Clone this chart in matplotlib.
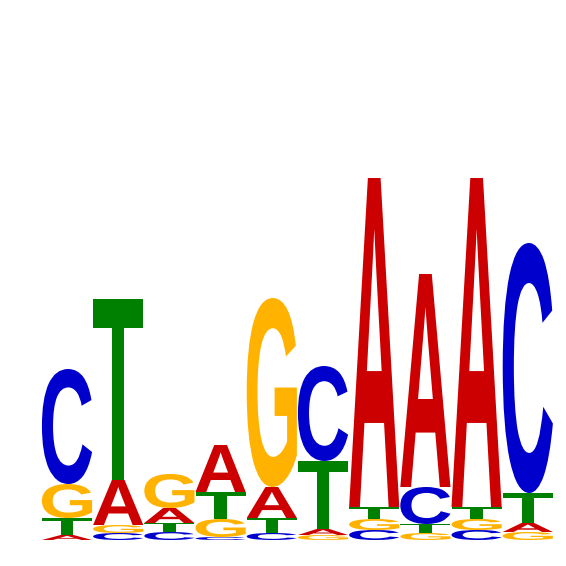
import matplotlib
matplotlib.use('Agg')
import matplotlib.pyplot as plt
from matplotlib.textpath import TextPath
from matplotlib.font_manager import FontProperties
from matplotlib.patches import PathPatch
from matplotlib.transforms import Affine2D

positions = [1, 2, 3, 4, 5, 6, 7, 8, 9, 10]
letters = ['A', 'C', 'G', 'T']
heights_A = [0.05, 0.45, 0.15, 0.47, 0.31, 0.06, 3.29, 2.13, 3.29, 0.09]
heights_C = [1.15, 0.07, 0.08, 0.03, 0.07, 0.95, 0.10, 0.37, 0.10, 2.50]
heights_G = [0.34, 0.08, 0.34, 0.18, 1.89, 0.05, 0.11, 0.07, 0.11, 0.08]
heights_T = [0.17, 1.81, 0.09, 0.27, 0.15, 0.68, 0.12, 0.09, 0.12, 0.30]

colors = {'A': '#CC0000', 'C': '#0000CC', 'G': '#FFB300', 'T': '#008000'}

fp = FontProperties(family='Liberation Sans', weight='bold')
glyphs = {}
for L in letters:
    tp = TextPath((0, 0), L, size=1, prop=fp)
    glyphs[L] = tp

fig = plt.figure(figsize=(5.66, 5.66), dpi=100)
ax = fig.add_axes([0, 0, 1, 1])
ax.set_xlim(1 - 67 / 51.2, 1 + 499 / 51.2)
ax.set_ylim(-0.26, 5.40)
ax.axis('off')

width = 0.98
table = {'A': heights_A, 'C': heights_C, 'G': heights_G, 'T': heights_T}
for i, pos in enumerate(positions):
    col = sorted([(table[L][i], L) for L in letters])
    y = 0.0
    for h, L in col:
        if h <= 0:
            continue
        path = glyphs[L]
        bb = path.get_extents()
        sx = width / bb.width
        sy = h / bb.height
        tr = Affine2D().translate(-bb.x0, -bb.y0).scale(sx, sy).translate(pos - width / 2, y)
        patch = PathPatch(tr.transform_path(path), facecolor=colors[L], edgecolor='none')
        ax.add_patch(patch)
        y += h

fig.savefig('out.png', dpi=100)
